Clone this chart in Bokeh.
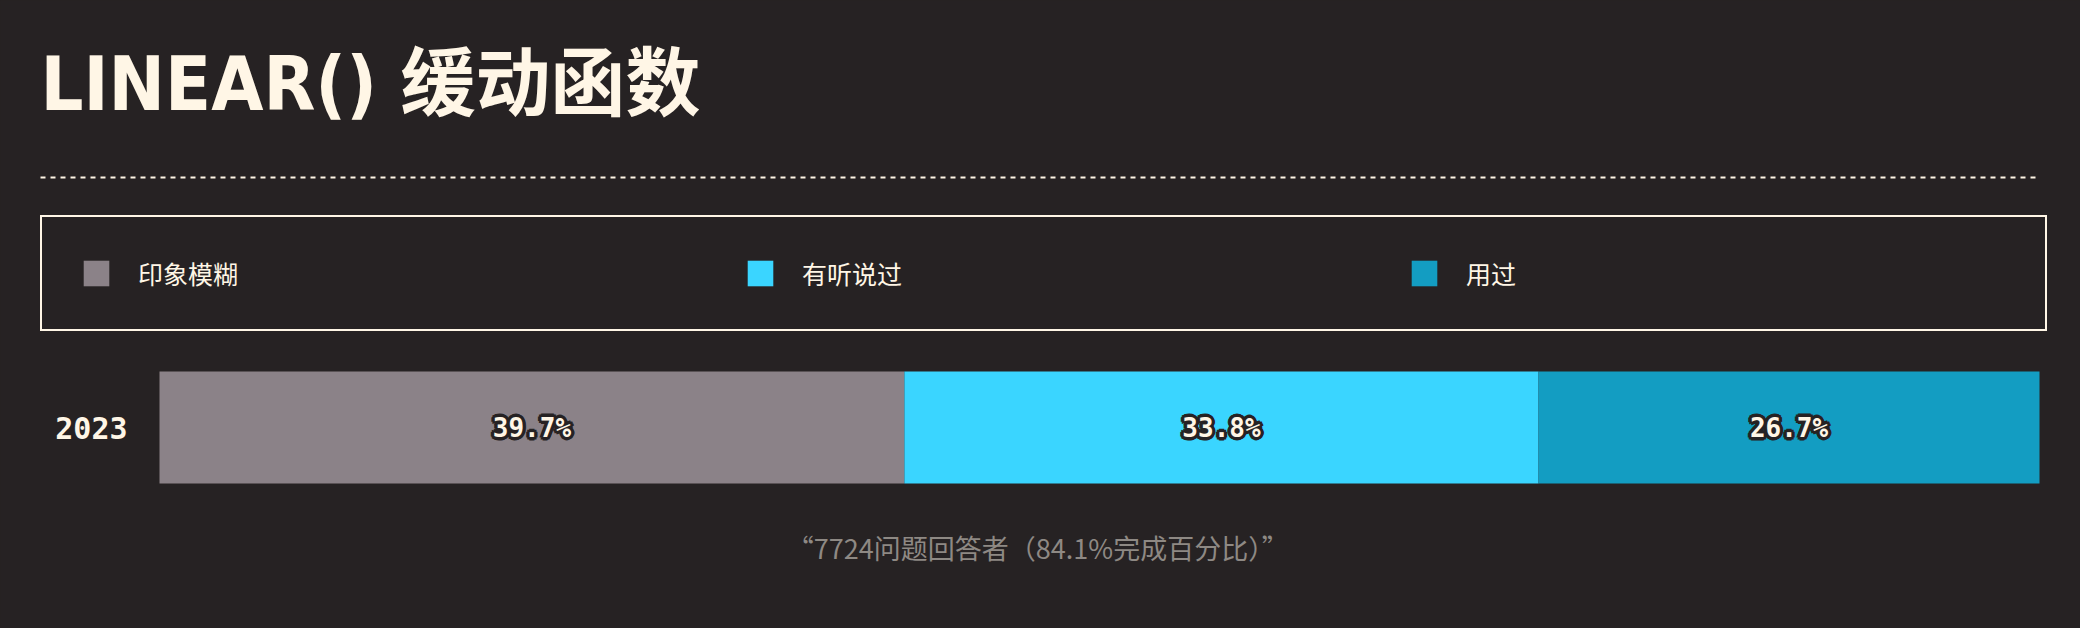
from bokeh.plotting import figure
from bokeh.models import ColumnDataSource, FactorRange, Range1d, Label, Arrow
from bokeh.transform import dodge
from bokeh.core.properties import value
from bokeh.embed import file_html
from bokeh.resources import INLINE

# ---- data ----
years = ["2023"]
series_names = ["印象模糊", "有听说过", "用过"]
vague = [39.7]
heard = [33.8]
used = [26.7]
colors = ["#8b8288", "#3ad5ff", "#139dc2"]
title_text = "LINEAR() 缓动函数"
footer_text = "“7724问题回答者（84.1%完成百分比）”"

# ---- layout / style ----
BG = "#262223"
CREAM = "#fff6e6"
W, H = 2080, 628
BAR_L, BAR_R = 159, 2039          # pixel extent of the bar area
BAR_T, BAR_B = 371, 483

total = vague[0] + heard[0] + used[0]
k = (BAR_R - BAR_L) / total
x_start = -BAR_L / k
x_end = x_start + W / k

bar_px = BAR_B - BAR_T
rp = H / bar_px - 1
y_shift = -(((BAR_T + BAR_B) / 2) - H / 2) / bar_px

p = figure(width=W, height=H, y_range=FactorRange(factors=years, range_padding=rp),
           x_range=Range1d(x_start, x_end),
           output_backend="svg", toolbar_location=None,
           min_border=0, min_border_left=0, min_border_right=0,
           min_border_top=0, min_border_bottom=0,
           background_fill_color=BG, border_fill_color=BG, outline_line_color=None)
p.axis.visible = False
p.grid.visible = False

source = ColumnDataSource(dict(year=years, s0=vague, s1=heard, s2=used))
ypos = dodge("year", y_shift, range=p.y_range)

p.hbar_stack(["s0", "s1", "s2"], y=ypos, height=1, color=colors, source=source,
             legend_label=series_names, line_width=0)

# labels in bar centres
vals = [vague[0], heard[0], used[0]]
mids, acc = [], 0.0
for v in vals:
    mids.append(acc + v / 2)
    acc += v
lab = ColumnDataSource(dict(x=mids, y=years * 3, t=[f"{v:.1f}%" for v in vals]))
lab_ypos = dodge("y", y_shift, range=p.y_range)
common = dict(x="x", y=lab_ypos, text="t", source=lab, text_align="center",
              text_baseline="middle", text_font=value("DejaVu Sans Mono"),
              text_font_style="bold", text_font_size="26px")
# dark halo underneath the labels
for dx, dy in [(-2, -2), (2, -2), (-2, 2), (2, 2), (0, -3), (0, 3), (-3, 0), (3, 0)]:
    p.text(**common, x_offset=dx, y_offset=dy, text_color=BG, text_outline_color=BG)
p.text(**common, text_color=CREAM)

# category label
ylab = ColumnDataSource(dict(x=[0] * len(years), y=years, t=years))
p.text(x="x", y=dodge("y", y_shift, range=p.y_range), text="t", source=ylab,
       x_offset=-32, text_align="right", text_baseline="middle",
       text_font=value("DejaVu Sans Mono"), text_font_style="bold",
       text_font_size="30px", text_color=CREAM)

leg = p.legend[0]
leg.orientation = "horizontal"
leg.location = (40, H - 331)
leg.margin = 0
leg.padding = 38
leg.spacing = 65
leg.label_width = 541
leg.label_height = 32
leg.label_standoff = 26
leg.glyph_width = 32
leg.glyph_height = 32
leg.label_text_font = "Noto Sans CJK SC"
leg.label_text_font_size = "25px"
leg.label_text_color = CREAM
leg.border_line_color = CREAM
leg.border_line_alpha = 1
leg.border_line_width = 2
leg.background_fill_color = BG
leg.background_fill_alpha = 1

p.add_layout(Label(x=40, y=H - 83, x_units="screen", y_units="screen", text=title_text,
                   text_font="Liberation Sans Narrow, DejaVu Sans Condensed, Noto Sans CJK SC, sans-serif",
                   text_font_style="bold",
                   text_font_size="75px", text_color=CREAM, text_baseline="middle"))

p.add_layout(Arrow(x_start=40, y_start=H - 177, x_end=2039, y_end=H - 177,
                   start_units="screen", end_units="screen", start=None, end=None,
                   line_color=CREAM, line_alpha=1, line_dash="5 5", line_width=2))

p.add_layout(Label(x=1044, y=H - 547, x_units="screen", y_units="screen", text=footer_text,
                   text_font="Noto Sans CJK SC", text_font_size="27px", text_color="#8e8984",
                   text_align="center", text_baseline="middle"))

html = file_html(p, INLINE)
html = html.replace("</head>", "<style>html,body{background:#262223;}</style></head>", 1)
open("out.html", "w").write(html)
